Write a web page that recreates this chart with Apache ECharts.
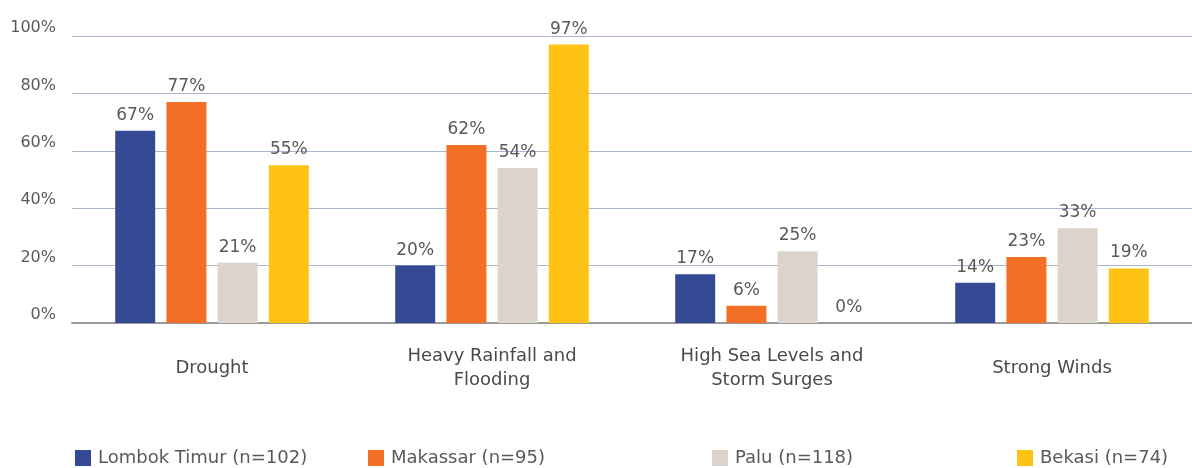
<!DOCTYPE html>
<html>
<head>
<meta charset="utf-8">
<script src="https://cdn.jsdelivr.net/npm/echarts@6/dist/echarts.min.js"></script>
<style>
  html, body { margin: 0; padding: 0; background: #fff; }
  #chart { width: 1192px; height: 468px; }
</style>
</head>
<body>
<div id="chart"></div>
<script>
'use strict';

const categories = ['Drought', 'Heavy Rainfall and\nFlooding', 'High Sea Levels and\nStorm Surges', 'Strong Winds'];
const seriesNames = ['Lombok Timur (n=102)', 'Makassar (n=95)', 'Palu (n=118)', 'Bekasi (n=74)'];
const lombokTimur = [67, 20, 17, 14];
const makassar = [77, 62, 6, 23];
const palu = [21, 54, 25, 33];
const bekasi = [55, 97, 0, 19];
const yTicks = [0, 20, 40, 60, 80, 100];

const colors = ['#354a94', '#f26f25', '#dcd3cb', '#fec315'];
const values = [lombokTimur, makassar, palu, bekasi];
const legendLefts = [75, 368, 712, 1017];
const font = '"DejaVu Sans", "Open Sans", sans-serif';

const chart = echarts.init(document.getElementById('chart'), null, {renderer: 'canvas'});

const option = {
    animation: false,
    textStyle: {fontFamily: font},
    grid: {left: 72, right: 0, top: 36, bottom: 145, containLabel: false},
    legend: seriesNames.map((name, i) => ({
        data: [name],
        left: legendLefts[i],
        top: 449,
        padding: 0,
        itemWidth: 16,
        itemHeight: 16,
        icon: 'rect',
        itemGap: 0,
        textStyle: {fontSize: 18, color: '#595959', fontFamily: font, padding: [0, 0, 0, 2]}
    })),
    xAxis: {
        type: 'category',
        data: categories,
        axisLine: {lineStyle: {color: '#999', width: 2}},
        axisTick: {show: false},
        axisLabel: {
            fontSize: 18, color: '#4a4a4a', margin: 45, lineHeight: 24, fontFamily: font,
            verticalAlign: 'middle'
        }
    },
    yAxis: {
        type: 'value',
        min: yTicks[0],
        max: yTicks[yTicks.length - 1],
        interval: 20,
        axisLine: {show: false},
        axisTick: {show: false},
        axisLabel: {
            fontSize: 16, color: '#595959', margin: 16, fontFamily: font,
            formatter: v => v + '%',
            verticalAlign: 'bottom'
        },
        splitLine: {lineStyle: {color: '#a9b8cf', width: 1}}
    },
    series: seriesNames.map((name, i) => ({
        name: name,
        type: 'bar',
        data: values[i],
        barWidth: 40,
        barGap: '28%',
        itemStyle: {color: colors[i]},
        label: {
            show: true,
            position: 'top',
            distance: 7,
            fontSize: 17,
            color: '#595959',
            fontFamily: font,
            formatter: p => p.value + '%'
        }
    }))
};

chart.setOption(option);
</script>
</body>
</html>
